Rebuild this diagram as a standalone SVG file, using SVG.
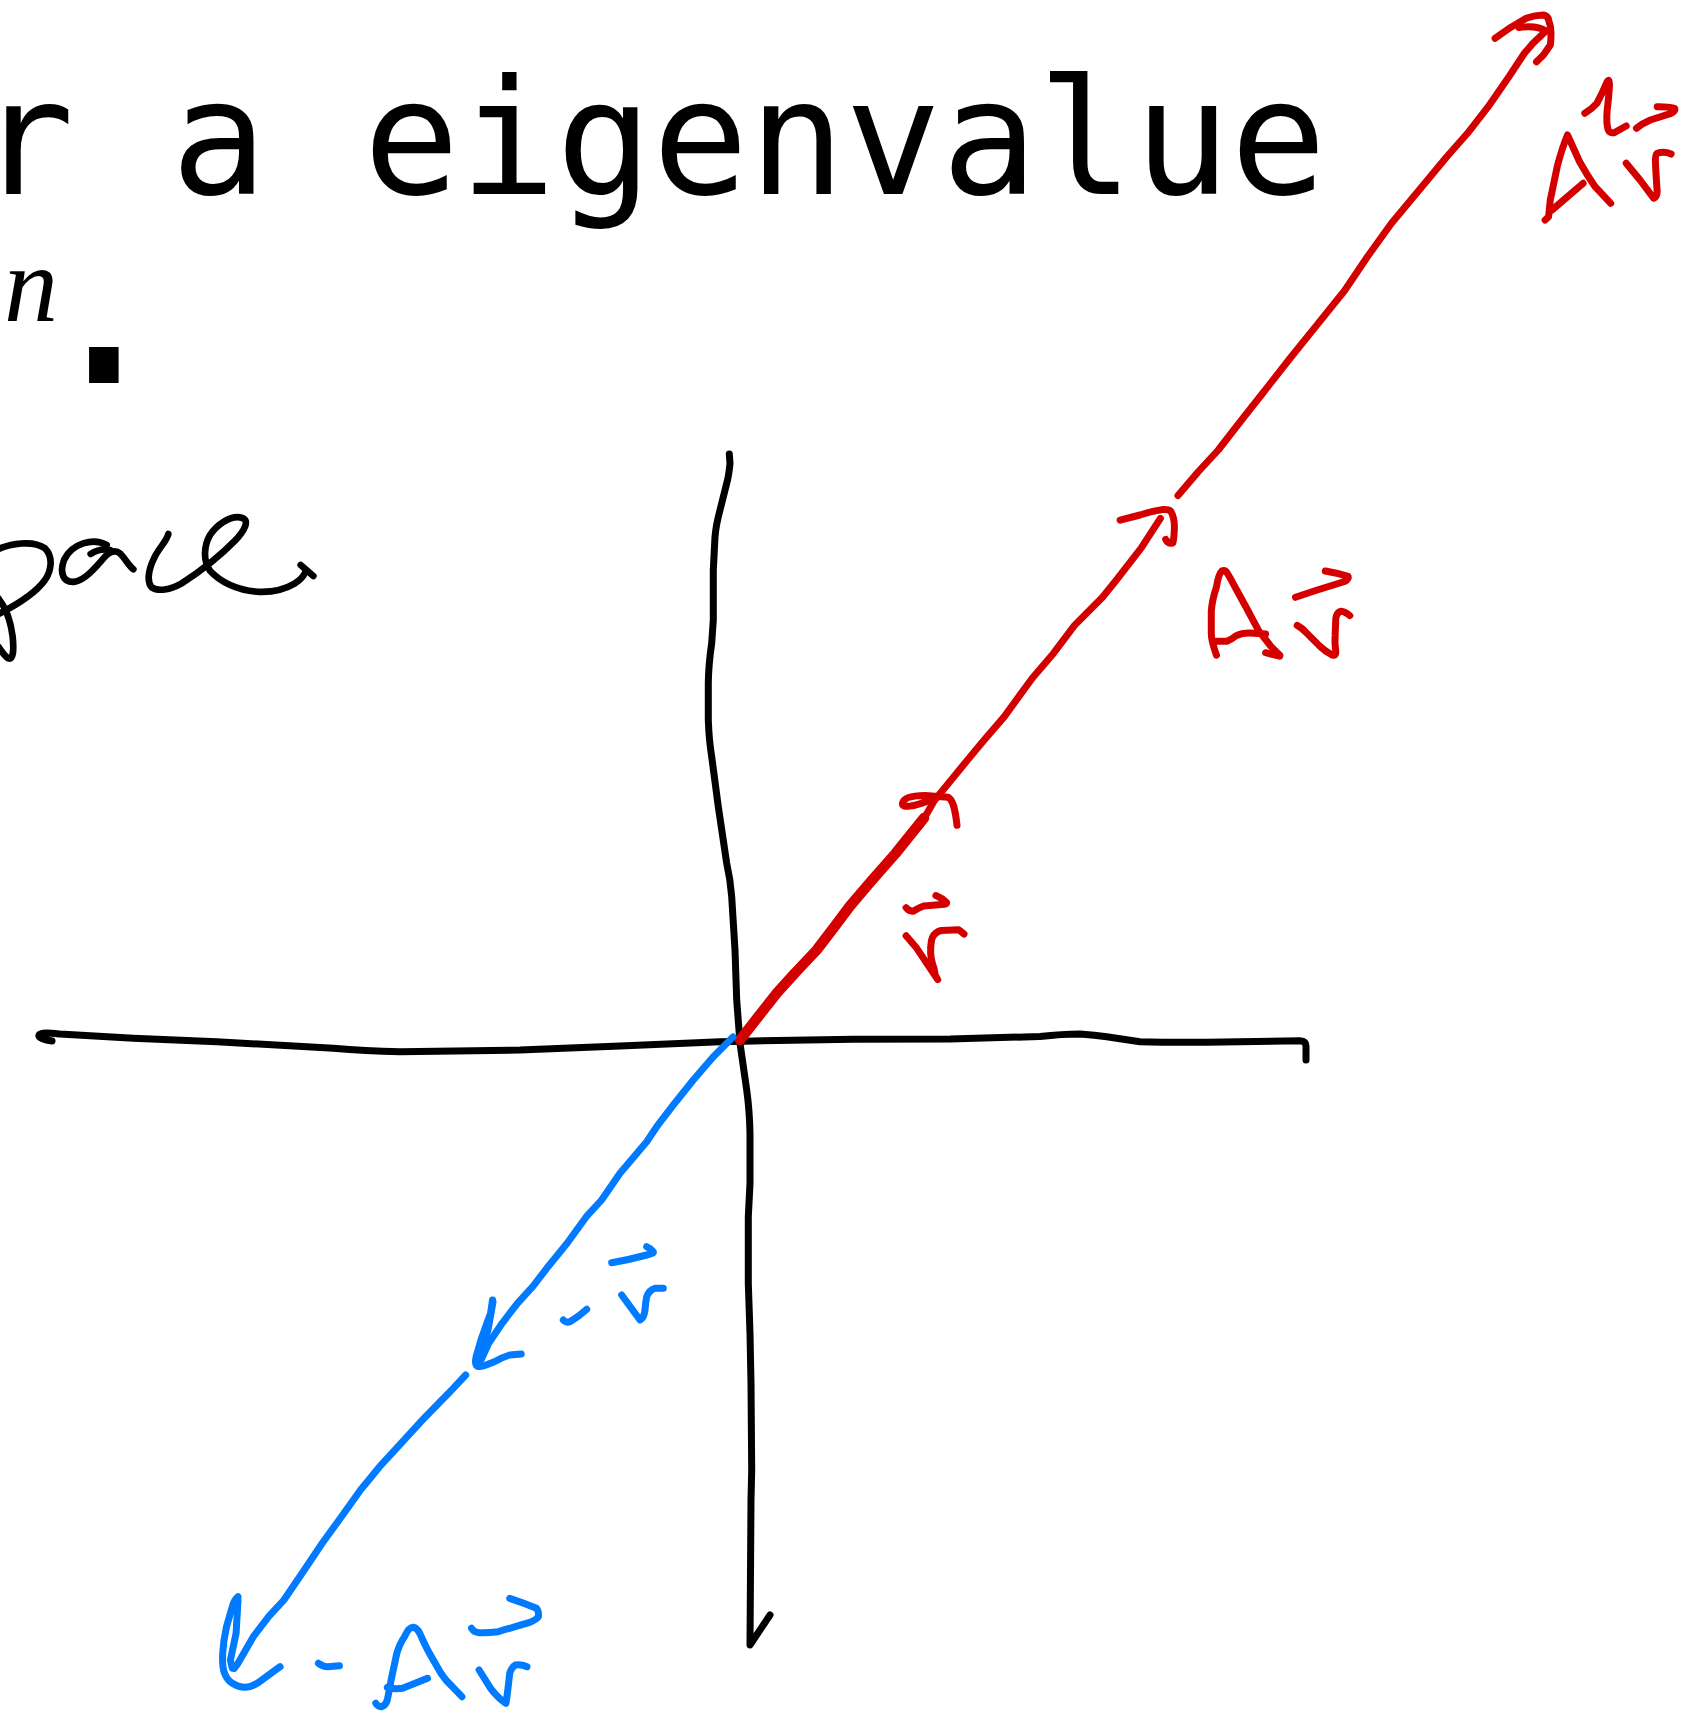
<svg xmlns="http://www.w3.org/2000/svg" width="1691" height="1714" viewBox="0 0 1691 1714">
<style>
.k{fill:none;stroke:#000;stroke-width:7;stroke-linecap:round;stroke-linejoin:round}
.r{fill:none;stroke:#d40000;stroke-width:7;stroke-linecap:round;stroke-linejoin:round}
.b{fill:none;stroke:#007aff;stroke-width:7;stroke-linecap:round;stroke-linejoin:round}
.mono{font-family:"DejaVu Sans Mono","Liberation Mono",monospace;fill:#000}
.ital{font-family:"Liberation Serif","DejaVu Serif",serif;font-style:italic;fill:#000}
</style>
<rect x="0" y="0" width="1691" height="1714" fill="#fff"/>
<g id="texts">
<text class="mono" x="-22" y="194" font-size="160">r a eigenvalue</text>
<text class="ital" x="4" y="321" font-size="108">n</text>
<text class="mono" x="104" y="383" font-size="240" text-anchor="middle">.</text>
</g>
<g id="pace" transform="translate(0,450) scale(0.33333)">
<path class="k" style="stroke-width:20" d="M -10,300 C 30,280 100,270 135,295 C 160,320 155,360 135,390 C 110,425 60,460 -10,495"/>
<path class="k" style="stroke-width:20" d="M -5,445 C 15,470 32,510 38,560 C 42,600 40,630 25,625 C 15,620 5,605 -5,590"/>
<path class="k" style="stroke-width:20" d="M 320,285 C 280,262 215,280 192,330 C 178,370 190,400 225,395 C 255,390 285,355 315,320 C 330,305 345,298 360,310 C 375,325 385,345 400,358"/>
<path class="k" style="stroke-width:20" d="M 272,312 C 290,300 310,296 330,300"/>
<path class="k" style="stroke-width:20" d="M 505,252 C 500,275 475,295 462,325 C 445,360 440,395 455,412 C 475,425 510,420 545,400 C 600,365 660,318 705,272 C 735,240 750,210 725,203 C 690,195 650,225 630,255 C 610,290 610,335 630,362 C 660,395 710,420 770,425 C 820,428 855,418 885,400 C 900,390 910,380 915,368"/>
<path class="k" style="stroke-width:20" d="M 902,345 L 940,378"/>
</g>
<g id="axes">
<path class="k" d="M 729.3,454 L 730,463.3 Q 729,475 726.7,483.3 L 720,510 Q 716,525 715,536.7 L 713.3,570 L 713.3,620 L 711.7,643.3 Q 708.5,665 708.3,683.3 L 708.3,720 Q 709,740 711.7,756.7 L 718.3,806.7 L 726.7,863.3 Q 730.5,880 731.7,896.7 L 735,950 L 736.7,1000 L 740,1043.3 L 746.7,1090 Q 749.5,1110 750,1133.3 L 750,1183.3 L 748.3,1216.7 L 748.3,1283.3 L 750,1333.3 L 751,1383.3 L 751.7,1470 L 751,1500 L 750,1645 L 770,1615"/>
<path class="k" d="M 52,1041 C 45,1040 38,1038 39,1035 C 41,1032 50,1033 60,1034 L 133.3,1038.3 L 216.7,1041.7 L 333.3,1048.3 Q 365,1051 400,1051.7 L 520,1050 L 620,1046 L 720,1041.7 L 753.3,1041 L 853.3,1039.3 L 950,1039 L 1040,1036.5 Q 1062,1034 1080,1034 Q 1095,1035 1106.7,1036.7 L 1140,1041.7 Q 1165,1042.5 1206.7,1042.3 L 1300,1040.7 Q 1306,1041 1306,1046 L 1306,1060"/>
</g>
<g id="connectors">
<path class="r" style="stroke-width:10.5" d="M 740,1040 L 758,1017 L 776.7,993.3 L 795,973 L 816.7,950 L 835,926 L 850,906 L 871,881.4 L 895.6,853.4 L 924,818"/>
<path class="r" d="M 740,1040 L 776.7,993.3 L 816.7,950 L 850,906 L 871,881.4 L 895.6,853.4 L 920.2,825.3 L 934.2,800.8 L 965.7,762.2 L 983.3,741.1 L 1004.3,716.6 L 1032.4,678 L 1053.4,653.4 L 1074.5,625.4 L 1102.5,597.3 L 1116.6,579.8 L 1141.1,548.2 L 1160.4,518.4"/>
<path class="r" d="M 928,801 C 915,806 901,809 902.6,803 C 904,797 915,795.5 925,795.5 L 948.2,797.2 C 953,800 955,808 957,825.3"/>
<path class="r" d="M 1120.1,520.2 L 1140,515 Q 1152,511 1162.2,509.6 Q 1169,509 1170.9,511.4 Q 1174.5,518 1174.4,527.2 Q 1174,540 1172.7,543 Q 1168,544 1165.7,539.4"/>
<path class="r" d="M 1178,495.6 L 1198,472 L 1218.3,450 L 1240,422 L 1262.5,393.5 L 1289.9,358.5 L 1317.2,324.6 L 1344.5,290.8 L 1367.4,256.7 L 1391.5,223.3 L 1419.2,190 L 1446.8,156.7 L 1467.5,133.3 L 1488.2,106.7 L 1508.9,76.7 L 1524.4,53.3 L 1533,43.3 L 1545.1,31.7"/>
<path class="r" d="M 1495.1,38.3 Q 1510,27 1526.1,18.3 Q 1535,15 1543.4,15 Q 1548,16 1548.6,20 Q 1551,26 1551,33.3 Q 1551,41 1550.3,45 Q 1547,50 1543.4,55 L 1536.5,61.7"/>
<path class="r" d="M 1519,27.5 C 1530,26 1540,27 1546,31"/>
<path class="b" d="M 733,1037 L 713.3,1056.7 L 693.3,1080 L 673.3,1105 L 656.7,1126.7 L 646.7,1141.7 L 620,1173.3 L 601.6,1200 L 586.3,1216.7 L 567.1,1243.3 L 548,1266.7 L 532.7,1286.7 L 517.4,1303.3 L 502.1,1323.3 L 488.7,1343.3 L 481,1360 L 477.2,1365"/>
<path class="b" d="M 492.5,1300 L 490.6,1313.3 L 486.8,1323.3 L 481,1340 L 476.1,1356.7 Q 474.5,1364 477,1366 Q 480,1367.5 486,1365 L 494.4,1361.7 Q 503,1357 509.7,1355 L 521.2,1354"/>
<path class="b" d="M 493,1302 L 488,1330 L 480,1355"/>
<path class="b" d="M 465.7,1375 L 448.5,1393.3 L 425.5,1416.7 L 402.6,1441.7 L 379.6,1466.7 L 360.5,1490 L 341.4,1516.7 L 322.2,1543.3 L 303.1,1571.7 L 283.9,1600 L 268.6,1616.7 L 253.3,1636.7 L 238,1663.3 L 234.2,1668.3"/>
<path class="b" d="M 238,1596.7 Q 234,1600 232.3,1606.7 L 226.5,1626.7 Q 223.5,1640 222.7,1653.3 Q 222,1667 224.6,1673.3 Q 227,1680 232.3,1683.3 Q 239,1687.5 245.7,1687.3 Q 251,1687 257.2,1683.3 L 280.1,1666.7"/>
<path class="b" d="M 238,1600 L 236.1,1633.3 L 230.4,1660 L 232.3,1668.3"/>
</g>
<g id="label-v">
<path class="r" d="M 906.1,907.7 Q 909,911.5 913.1,911.2 Q 918,908 923.7,906 L 944.7,904.2 Q 947,903.5 946.5,902.5 Q 942,898 935.9,895.5"/>
<path class="r" d="M 906.1,935.8 L 916.6,948.1 L 937.7,979.6 Q 934.5,975 934.2,969.1 Q 930,958 930.7,948.1 Q 931,941 932.4,937.5 Q 935,932 941.2,930.5 L 958.7,929.8 L 964,934"/>
</g>
<g id="label-Av">
<path class="r" d="M 1216.5,655.2 Q 1211,640 1211.3,632.4 L 1211.3,611.3 Q 1212,600 1216.5,586.8 Q 1218.5,574 1221.8,571 Q 1225,569.5 1227.1,572.8 Q 1231,579 1235.8,588.5 L 1246.4,607.8 L 1258.6,630.6 L 1270.9,646.4 L 1279.7,655.2"/>
<path class="r" d="M 1216.5,641.2 L 1227.1,641.2 Q 1231,640 1235.8,635.9 Q 1242,633 1249.9,633.1 L 1265.6,634.1"/>
<path class="r" d="M 1265.6,652.7 L 1279.7,656.2"/>
<path class="r" d="M 1295.5,597.3 L 1316.5,590.3 L 1344.6,581.5 Q 1349,579 1348.1,576.3 Q 1337,573 1325.3,571"/>
<path class="r" d="M 1297.2,625.4 Q 1302,628 1306,632.4 L 1320,646.4 Q 1326,652 1332.3,655.2 Q 1336,656 1335.8,651.7 Q 1334.5,643 1335.1,635.9 L 1335.8,618.4 Q 1337,612 1341.1,611.3 Q 1345,611.5 1349.8,615.6"/>
</g>
<g id="label-A2v">
<path class="r" d="M 1584.8,113.3 Q 1592,109 1596.9,103.3 Q 1602,94 1607.2,81.7 Q 1609.5,78 1609.5,85 Q 1609,95 1607.2,110 Q 1606,123 1608.2,130 Q 1610,133.5 1614.1,132.7 L 1626.2,126"/>
<path class="r" d="M 1636.5,128.3 Q 1643,123 1650.3,120 L 1671.1,113.3 Q 1676,111 1674.5,108.3 Q 1668,106.5 1657.2,106.7"/>
<path class="r" d="M 1545.1,220 L 1548.6,216.7 Q 1549.5,208 1550.3,200 L 1557.2,166.7 Q 1562,148 1567.5,135 Q 1573,147 1579.6,161.7 Q 1587,175 1595.1,186.7 L 1610.7,203.3"/>
<path class="r" d="M 1552,210 L 1583.1,183.3"/>
<path class="r" d="M 1626.2,163.3 L 1640,180 L 1653.8,198.3 Q 1657,197 1657.2,191.7 Q 1656,175 1655.5,163.3 Q 1655,155 1657.2,153.3 Q 1664,151 1671.1,154"/>
</g>
<g id="label-minus-v">
<path class="b" d="M 563.3,1320 Q 566,1323 570,1321.7 Q 578,1317 586.7,1309.3"/>
<path class="b" d="M 611.7,1262.7 Q 628,1260 646.7,1255 Q 654,1253.5 653.3,1251.7 Q 651,1248.5 646.7,1246.7"/>
<path class="b" d="M 621.7,1295 Q 632,1309 640,1320 Q 644,1318 645,1310 Q 645.5,1302 646.7,1296.7 Q 649,1290 655,1288.3 L 663.3,1288.3"/>
</g>
<g id="label-minus-Av">
<path class="b" d="M 318.4,1663.3 Q 323,1666.5 328,1666.7 L 339.4,1665.7"/>
<path class="b" d="M 375.8,1703.3 Q 378,1707 381.5,1706.7 Q 386,1705 387.3,1700 Q 389.5,1690 391.1,1680 L 396.8,1653.3 Q 400,1643 404.5,1636.7 Q 409,1627 413.3,1627.3 Q 417,1628 419.8,1633.3 Q 424,1643 429.4,1653.3 L 440.9,1673.3 Q 446,1681 452.3,1686.7 L 461.9,1696.7"/>
<path class="b" d="M 387.3,1687.3 Q 394,1689.5 402.6,1688.3 L 427.5,1678.3"/>
<path class="b" d="M 471.5,1628.3 Q 474,1632.5 479.1,1632.7 Q 488,1633 498.3,1631.7 Q 514,1627 528.9,1622.7 Q 536,1620 538.4,1616.7 Q 539,1611 536.5,1608.3 Q 524,1603 509.7,1598.3"/>
<path class="b" d="M 479.1,1670 L 490.6,1688.3 Q 498,1698 505.9,1703.3 Q 507,1697 507.8,1690 L 509.7,1673.3 Q 511.5,1667 515.5,1665 Q 521,1664 527,1666.7"/>
</g>
</svg>
